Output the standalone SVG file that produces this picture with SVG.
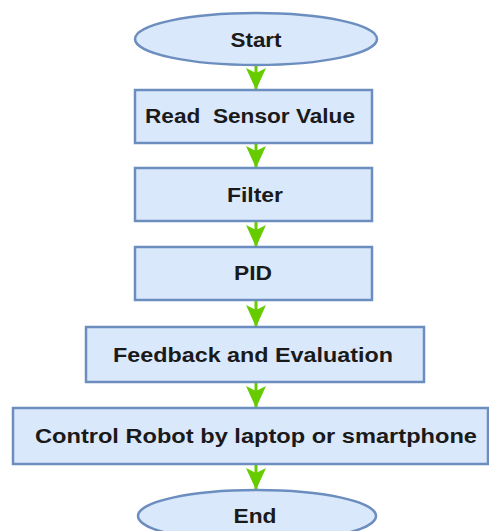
<svg xmlns="http://www.w3.org/2000/svg" width="489" height="531" viewBox="0 0 489 531">
<style>
.n{fill:#dae8fc;stroke:#6c8ebf;stroke-width:2.5}
.t{font-family:"Liberation Sans",Arial,sans-serif;font-weight:bold;font-size:20px;fill:#1a1a1a;text-anchor:middle}
.c{stroke:#66cc00;stroke-width:3;fill:none}
</style>
<defs>
<marker id="ah" markerUnits="userSpaceOnUse" markerWidth="24" markerHeight="20" refX="22" refY="10" orient="auto">
<path d="M0,0 L22,10 L0,20 L5,10 Z" fill="#66cc00"/>
</marker>
</defs>
<rect width="489" height="531" fill="#ffffff"/>
<g id="connectors">
<line class="c" x1="256" y1="65" x2="256" y2="90" marker-end="url(#ah)"/>
<line class="c" x1="256" y1="143" x2="256" y2="168" marker-end="url(#ah)"/>
<line class="c" x1="256" y1="221" x2="256" y2="247" marker-end="url(#ah)"/>
<line class="c" x1="256" y1="300" x2="256" y2="327" marker-end="url(#ah)"/>
<line class="c" x1="256" y1="382" x2="256" y2="408" marker-end="url(#ah)"/>
<line class="c" x1="256" y1="464" x2="256" y2="490" marker-end="url(#ah)"/>
</g>
<g id="start">
<ellipse class="n" cx="256" cy="39" rx="121" ry="26"/>
<text class="t" x="256" y="47" textLength="51" lengthAdjust="spacingAndGlyphs">Start</text>
</g>
<g id="read">
<rect class="n" x="135" y="90" width="237" height="53"/>
<text class="t" x="250" y="123" textLength="210" lengthAdjust="spacingAndGlyphs" xml:space="preserve">Read  Sensor Value</text>
</g>
<g id="filter">
<rect class="n" x="135" y="168" width="237" height="53"/>
<text class="t" x="255" y="202" textLength="56" lengthAdjust="spacingAndGlyphs">Filter</text>
</g>
<g id="pid">
<rect class="n" x="135" y="247" width="237" height="53"/>
<text class="t" x="253" y="280" textLength="38" lengthAdjust="spacingAndGlyphs">PID</text>
</g>
<g id="feedback">
<rect class="n" x="86" y="327" width="338" height="55"/>
<text class="t" x="253" y="362" textLength="280" lengthAdjust="spacingAndGlyphs">Feedback and Evaluation</text>
</g>
<g id="control">
<rect class="n" x="13" y="408" width="475" height="56"/>
<text class="t" x="256" y="443" textLength="442" lengthAdjust="spacingAndGlyphs">Control Robot by laptop or smartphone</text>
</g>
<g id="end">
<ellipse class="n" cx="257" cy="516" rx="119" ry="26"/>
<text class="t" x="255" y="523" textLength="43" lengthAdjust="spacingAndGlyphs">End</text>
</g>
</svg>
